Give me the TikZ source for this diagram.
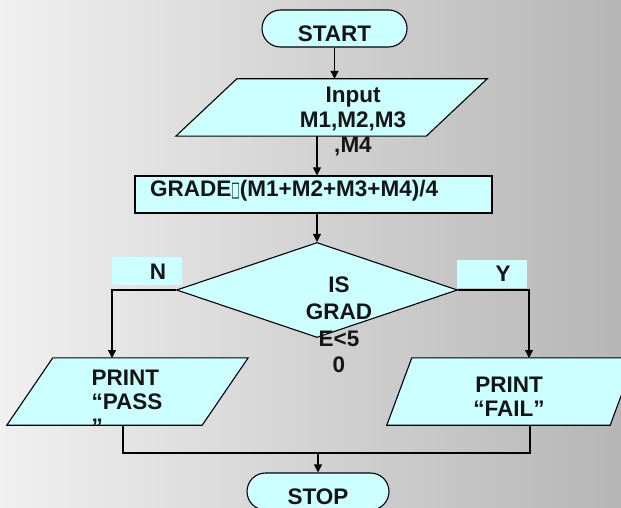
\documentclass[tikz,border=0pt]{standalone}
\usepackage{fontspec}
\setmainfont{Liberation Sans}
\newfontfamily\symfont{DejaVu Sans}
\usetikzlibrary{shapes.geometric,shapes.misc,arrows.meta,calc}
\definecolor{boxfill}{HTML}{CCFFFF}
\definecolor{ink}{HTML}{151515}
\definecolor{bgleft}{HTML}{F0F0F0}
\definecolor{bgright}{HTML}{B6B6B6}
\begin{document}
\begin{tikzpicture}[x=1pt,y=-1pt,
  fig/.style={draw=black,fill=boxfill,line width=1.1pt},
  term/.style={fig,rounded rectangle,minimum width=#1,minimum height=37pt,inner sep=0pt,
    text height=26pt,text depth=0pt,text=ink,font={\fontsize{22.5}{26}\selectfont\bfseries}},
  frame/.style={draw=none,inner sep=0pt},
  txt/.style={font={\fontsize{22.5}{#1}\selectfont\bfseries},text=ink,inner sep=0pt,align=center},
  txt/.default=25,
  tag/.style={fill=boxfill,draw=none,inner sep=0pt,minimum width=70pt,minimum height=28pt},
  ln/.style={line width=1.1pt,draw=black},
  arr/.style={ln,-{Triangle[length=8pt,width=8pt]}}
]
\clip (0,0) rectangle (621,508);
\shade[left color=bgleft,right color=bgright] (0,0) rectangle (621,508);

% terminals
\node[term=145pt] (start) at (334.5,28.5) {START};
\node[term=142pt] (stop) at (318,491.5) {STOP};

% input parallelogram
\node[frame,minimum width=311pt,minimum height=57pt] (input) at (331.5,107.5) {};
\draw[fig] (input.south west) -- ([xshift=61pt]input.north west) -- (input.north east)
  -- ([xshift=-61pt]input.south east) -- cycle;

% process
\node[fig,rectangle,minimum width=357pt,minimum height=37pt,inner sep=0pt] (process) at (313.5,194.5) {};

% decision labels
\node[tag] (nbox) at (147,271) {};
\node[tag] (ybox) at (492,274) {};

% decision
\node[fig,diamond,minimum width=281pt,minimum height=95pt,inner sep=0pt] (dia) at (317,290) {};

% output parallelograms
\node[frame,minimum width=241pt,minimum height=67pt] (pass) at (127.5,391.5) {};
\draw[fig] (pass.south west) -- ([xshift=46pt]pass.north west) -- (pass.north east)
  -- ([xshift=-46pt]pass.south east) -- cycle;
\node[frame,minimum width=248pt,minimum height=67pt] (fail) at (511,391.5) {};
\draw[fig] (fail.south west) -- ([xshift=25pt]fail.north west) -- (fail.north east)
  -- ([xshift=-25pt]fail.south east) -- cycle;

% connection points
\coordinate (pin) at (112,358);
\coordinate (fin) at (529,358);
\coordinate (pout) at (123,425);
\coordinate (fout) at (530,425);
\coordinate (join) at (318,453);

% connectors
\draw[arr] (start.south) -- (start.south |- input.north);
\draw[arr] (dia.north |- input.south) -- (dia.north |- process.north);
\draw[arr] (dia.north |- process.south) -- (dia.north);
\draw[arr] (dia.west) -| (pin);
\draw[arr] (dia.east) -| (fin);
\draw[ln] (pout) -- (pout |- join) -- (fout |- join) -- (fout);
\draw[arr] (join) -- (stop.north);

% texts
\node[txt=25] (inputtxt) at (353,122) {Input\\M1,M2,M3\\,M4};
\node[txt,anchor=west] (proctxt) at (150,191) {GRADE{\symfont\fontsize{18}{18}\selectfont\scalebox{0.5}[1.15]{□}}(M1+M2+M3+M4)/4};
\node[txt] (ntxt) at (158,272) {N};
\node[txt] (ytxt) at (503,274) {Y};
\node[txt=26.7] (diatxt) at (339,325) {IS\\GRAD\\E<5\\0};
\node[txt=24.5,align=left] (passtxt) at (127,402) {PRINT\\“PASS\\”};
\node[txt=23.5] (failtxt) at (509,397) {PRINT\\“FAIL”};
\end{tikzpicture}
\end{document}
